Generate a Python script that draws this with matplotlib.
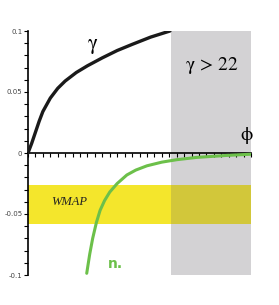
import matplotlib.pyplot as plt
from matplotlib.ticker import MultipleLocator

plt.rcParams['mathtext.fontset'] = 'stix'

# gamma curve (upper)
phi_g = [0, 0.5, 1.0, 1.5, 2.0, 3.0, 4.0, 5.0, 6.5, 8.0, 10.0, 12.0, 14.0, 16.5, 19.1]
gamma = [0, 0.008, 0.017, 0.026, 0.034, 0.045, 0.053, 0.059, 0.066, 0.0715,
         0.078, 0.084, 0.089, 0.095, 0.1]

# n_s curve (lower)
phi_n = [7.9, 8.3, 8.7, 9.2, 9.7, 10.3, 11.0, 12.0, 13.3, 14.5, 16.0, 18.0,
         20.0, 22.7, 26.7, 30.0]
n_s = [-0.0986, -0.083, -0.070, -0.057, -0.047, -0.039, -0.032, -0.025,
       -0.018, -0.014, -0.0105, -0.0075, -0.0055, -0.0036, -0.002, -0.001]

grey_start = 19.2
wmap_band = (-0.058, -0.026)

fig = plt.figure(figsize=(2.79, 3.05), dpi=100)
ax = fig.add_axes([28/279, 1-275/305, (251-28)/279, 244/305])
ax.set_xlim(0, 30)
ax.set_ylim(-0.1, 0.1)

ax.axvspan(grey_start, 30, color='#d3d2d4', zorder=0, lw=0)
ax.axhspan(wmap_band[0], wmap_band[1], color='#f4e62c', zorder=0.5, lw=0)
ax.fill_between([grey_start, 30], wmap_band[0], wmap_band[1],
                color='#d2c73a', zorder=0.6, lw=0)

ax.plot(phi_g, gamma, color='#1a1a1a', lw=2.4, zorder=3, solid_capstyle='round')
ax.plot(phi_n, n_s, color='#6cc04a', lw=2.2, zorder=3, solid_capstyle='round')

ax.spines['top'].set_visible(False)
ax.spines['right'].set_visible(False)
ax.spines['bottom'].set_position(('data', 0))
ax.spines['left'].set_linewidth(1.2)
ax.spines['bottom'].set_linewidth(1.2)

ax.set_yticks([-0.1, -0.05, 0, 0.05, 0.1])
ax.set_yticklabels(['-0.1', '-0.05', '0', '0.05', '0.1'], fontsize=5, color='#444444')
ax.yaxis.set_minor_locator(MultipleLocator(0.01))
ax.tick_params(axis='y', which='both', direction='out', length=3, width=0.8, pad=1)
ax.xaxis.set_major_locator(MultipleLocator(1))
ax.set_xticklabels([])
ax.tick_params(axis='x', which='both', direction='out', length=3, width=0.8)

ax.text(8.7, 0.088, r'$\mathrm{\gamma}$', fontsize=15, ha='center', va='center')
ax.text(24.8, 0.072, r'$\mathrm{\gamma}\,>\,22$', fontsize=14, ha='center', va='center')
ax.text(29.4, 0.014, r'$\mathrm{\phi}$', fontsize=14, ha='center', va='center')
ax.text(5.6, -0.040, 'WMAP', fontsize=9, style='italic', ha='center', va='center',
        family='Liberation Serif', color='#222222')
ax.text(11.7, -0.091, 'n.', fontsize=10, fontweight='bold', color='#6cc04a',
        ha='center', va='center')

fig.savefig('out.png', dpi=100)
